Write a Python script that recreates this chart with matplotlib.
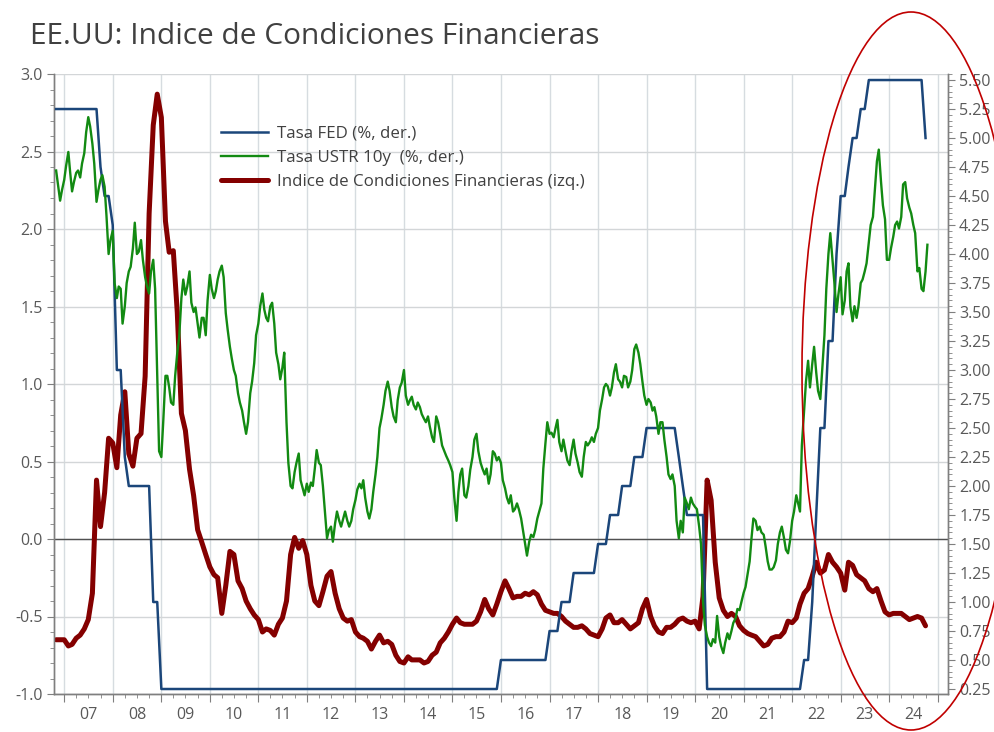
import numpy as np
import pandas as pd
import matplotlib
matplotlib.use("Agg")
import matplotlib.pyplot as plt
import matplotlib.dates as mdates
from matplotlib.patches import Ellipse
from matplotlib.ticker import MultipleLocator, FormatStrFormatter, NullFormatter

plt.rcParams['font.family'] = ['Open Sans', 'DejaVu Sans']
plt.rcParams['axes.unicode_minus'] = False

# monthly series, Nov-2006 .. Oct-2024
month_start = "2006-11-01"
month_end = "2024-10-01"

# Tasa FED (%), right axis
fed = [5.25, 5.25,
       5.25, 5.25, 5.25, 5.25, 5.25, 5.25, 5.25, 5.25, 5.25, 4.75, 4.50, 4.50,
       4.25, 3.00, 3.00, 2.25, 2.00, 2.00, 2.00, 2.00, 2.00, 2.00, 1.00, 1.00,
       0.25, 0.25, 0.25, 0.25, 0.25, 0.25, 0.25, 0.25, 0.25, 0.25, 0.25, 0.25,
       0.25, 0.25, 0.25, 0.25, 0.25, 0.25, 0.25, 0.25, 0.25, 0.25, 0.25, 0.25,
       0.25, 0.25, 0.25, 0.25, 0.25, 0.25, 0.25, 0.25, 0.25, 0.25, 0.25, 0.25,
       0.25, 0.25, 0.25, 0.25, 0.25, 0.25, 0.25, 0.25, 0.25, 0.25, 0.25, 0.25,
       0.25, 0.25, 0.25, 0.25, 0.25, 0.25, 0.25, 0.25, 0.25, 0.25, 0.25, 0.25,
       0.25, 0.25, 0.25, 0.25, 0.25, 0.25, 0.25, 0.25, 0.25, 0.25, 0.25, 0.25,
       0.25, 0.25, 0.25, 0.25, 0.25, 0.25, 0.25, 0.25, 0.25, 0.25, 0.25, 0.25,
       0.50, 0.50, 0.50, 0.50, 0.50, 0.50, 0.50, 0.50, 0.50, 0.50, 0.50, 0.50,
       0.75, 0.75, 0.75, 1.00, 1.00, 1.00, 1.25, 1.25, 1.25, 1.25, 1.25, 1.25,
       1.50, 1.50, 1.50, 1.75, 1.75, 1.75, 2.00, 2.00, 2.00, 2.25, 2.25, 2.25,
       2.50, 2.50, 2.50, 2.50, 2.50, 2.50, 2.50, 2.50, 2.25, 2.00, 1.75, 1.75,
       1.75, 1.75, 1.75, 0.25, 0.25, 0.25, 0.25, 0.25, 0.25, 0.25, 0.25, 0.25,
       0.25, 0.25, 0.25, 0.25, 0.25, 0.25, 0.25, 0.25, 0.25, 0.25, 0.25, 0.25,
       0.25, 0.25, 0.25, 0.50, 0.50, 1.00, 1.75, 2.50, 2.50, 3.25, 3.25, 4.00,
       4.50, 4.50, 4.75, 5.00, 5.00, 5.25, 5.25, 5.50, 5.50, 5.50, 5.50, 5.50,
       5.50, 5.50, 5.50, 5.50, 5.50, 5.50, 5.50, 5.50, 5.50, 5.00]

# Indice de Condiciones Financieras, left axis
icf = [-0.65, -0.65,
       -0.65, -0.69, -0.68, -0.64, -0.62, -0.58, -0.52, -0.35, 0.38, 0.08, 0.30, 0.65,
       0.62, 0.46, 0.80, 0.95, 0.55, 0.47, 0.65, 0.68, 1.05, 2.10, 2.67, 2.87,
       2.72, 2.05, 1.85, 1.86, 1.46, 0.81, 0.70, 0.45, 0.28, 0.06, -0.02, -0.10,
       -0.18, -0.23, -0.25, -0.48, -0.30, -0.08, -0.10, -0.27, -0.32, -0.40, -0.45, -0.49,
       -0.52, -0.60, -0.58, -0.59, -0.62, -0.55, -0.51, -0.40, -0.10, 0.01, -0.06, -0.01,
       -0.10, -0.30, -0.40, -0.43, -0.34, -0.24, -0.21, -0.35, -0.45, -0.51, -0.53, -0.52,
       -0.60, -0.63, -0.64, -0.66, -0.71, -0.66, -0.62, -0.67, -0.66, -0.68, -0.75, -0.79,
       -0.80, -0.76, -0.78, -0.78, -0.78, -0.80, -0.79, -0.75, -0.73, -0.67, -0.64, -0.60,
       -0.55, -0.51, -0.54, -0.55, -0.55, -0.55, -0.53, -0.47, -0.39, -0.45, -0.49, -0.42,
       -0.34, -0.27, -0.32, -0.38, -0.37, -0.37, -0.35, -0.36, -0.34, -0.36, -0.42, -0.46,
       -0.47, -0.48, -0.48, -0.50, -0.53, -0.55, -0.57, -0.57, -0.56, -0.58, -0.61, -0.62,
       -0.63, -0.58, -0.51, -0.49, -0.54, -0.54, -0.52, -0.55, -0.58, -0.56, -0.54, -0.45,
       -0.39, -0.50, -0.56, -0.60, -0.61, -0.57, -0.57, -0.55, -0.52, -0.51, -0.53, -0.54,
       -0.53, -0.58, -0.37, 0.38, 0.25, -0.15, -0.38, -0.46, -0.50, -0.48, -0.50, -0.56,
       -0.59, -0.61, -0.62, -0.63, -0.66, -0.69, -0.68, -0.64, -0.63, -0.63, -0.60, -0.53,
       -0.54, -0.51, -0.42, -0.35, -0.32, -0.24, -0.15, -0.22, -0.20, -0.10, -0.15, -0.18,
       -0.22, -0.33, -0.15, -0.17, -0.23, -0.25, -0.27, -0.32, -0.34, -0.32, -0.40, -0.47,
       -0.49, -0.48, -0.48, -0.48, -0.50, -0.52, -0.51, -0.50, -0.51, -0.56]

# Tasa USTR 10y (%), right axis, semi-monthly (1st and 15th)
semi_start = "2006-11-01"
semi_end = "2024-10-15"
ust10 = [4.72, 4.60, 4.46, 4.55,
         4.64, 4.76, 4.88, 4.70, 4.54, 4.62, 4.70, 4.72, 4.66, 4.78, 4.87, 5.05,
         5.18, 5.10, 4.95, 4.78, 4.45, 4.55, 4.64, 4.68, 4.58, 4.33, 4.00, 4.12,
         4.20, 3.75, 3.62, 3.72, 3.70, 3.40, 3.55, 3.75, 3.85, 3.89, 4.05, 4.27,
         4.00, 4.02, 4.12, 3.95, 3.80, 3.72, 3.66, 3.85, 3.95, 3.70, 2.95, 2.30,
         2.25, 2.55, 2.95, 2.95, 2.85, 2.72, 2.70, 2.95, 3.15, 3.28, 3.62, 3.78,
         3.65, 3.72, 3.85, 3.58, 3.50, 3.54, 3.40, 3.28, 3.45, 3.45, 3.30, 3.60,
         3.82, 3.70, 3.62, 3.68, 3.78, 3.85, 3.90, 3.80, 3.49, 3.35, 3.20, 3.10,
         3.00, 2.95, 2.80, 2.72, 2.65, 2.55, 2.45, 2.55, 2.80, 2.90, 3.06, 3.30,
         3.40, 3.55, 3.66, 3.52, 3.45, 3.42, 3.55, 3.58, 3.40, 3.15, 3.05, 2.92,
         3.02, 3.15, 2.55, 2.20, 2.00, 1.98, 2.12, 2.20, 2.28, 2.05, 1.98, 1.92,
         2.02, 1.95, 2.03, 2.00, 2.15, 2.31, 2.20, 2.18, 2.00, 1.80, 1.55, 1.62,
         1.65, 1.52, 1.68, 1.78, 1.70, 1.65, 1.72, 1.78, 1.70, 1.65, 1.70, 1.80,
         1.88, 1.97, 2.02, 1.98, 2.05, 1.90, 1.78, 1.72, 1.80, 1.95, 2.10, 2.25,
         2.50, 2.58, 2.70, 2.82, 2.90, 2.82, 2.68, 2.60, 2.55, 2.74, 2.85, 2.89,
         3.00, 2.78, 2.70, 2.74, 2.77, 2.70, 2.66, 2.72, 2.68, 2.62, 2.58, 2.55,
         2.60, 2.51, 2.42, 2.38, 2.60, 2.55, 2.45, 2.35, 2.30, 2.26, 2.22, 2.18,
         2.12, 1.90, 1.70, 1.95, 2.10, 2.15, 1.92, 1.90, 2.00, 2.14, 2.25, 2.40,
         2.45, 2.30, 2.20, 2.15, 2.10, 2.15, 2.02, 2.10, 2.30, 2.28, 2.22, 2.25,
         2.20, 2.05, 1.98, 1.90, 1.85, 1.92, 1.78, 1.80, 1.85, 1.80, 1.72, 1.62,
         1.50, 1.40, 1.52, 1.58, 1.56, 1.62, 1.72, 1.78, 1.85, 2.15, 2.37, 2.55,
         2.45, 2.46, 2.42, 2.50, 2.57, 2.38, 2.30, 2.40, 2.30, 2.22, 2.18, 2.30,
         2.40, 2.28, 2.20, 2.12, 2.08, 2.25, 2.38, 2.35, 2.38, 2.42, 2.38, 2.45,
         2.50, 2.65, 2.75, 2.85, 2.88, 2.86, 2.78, 2.85, 2.98, 3.05, 2.92, 2.90,
         2.85, 2.95, 2.94, 2.85, 2.90, 3.00, 3.18, 3.22, 3.15, 3.05, 2.90, 2.78,
         2.70, 2.75, 2.72, 2.65, 2.68, 2.60, 2.45, 2.55, 2.55, 2.40, 2.25, 2.10,
         2.06, 2.10, 2.00, 1.70, 1.55, 1.70, 1.60, 1.90, 1.85, 1.80, 1.90, 1.85,
         1.82, 1.80, 1.65, 1.50, 1.00, 0.80, 0.70, 0.65, 0.62, 0.68, 0.65, 0.88,
         0.70, 0.62, 0.56, 0.65, 0.73, 0.68, 0.75, 0.82, 0.86, 0.94, 0.93, 1.00,
         1.08, 1.13, 1.25, 1.35, 1.55, 1.72, 1.70, 1.62, 1.65, 1.60, 1.58, 1.48,
         1.35, 1.28, 1.28, 1.30, 1.36, 1.50, 1.60, 1.65, 1.55, 1.45, 1.42, 1.52,
         1.70, 1.78, 1.92, 1.85, 1.78, 2.35, 2.65, 2.90, 3.08, 2.85, 3.05, 3.20,
         2.98, 2.82, 2.75, 3.00, 3.30, 3.70, 4.00, 4.18, 3.95, 3.75, 3.50, 3.65,
         3.80, 3.48, 3.60, 3.85, 3.92, 3.55, 3.42, 3.55, 3.45, 3.55, 3.75, 3.78,
         3.85, 3.92, 4.10, 4.25, 4.32, 4.55, 4.80, 4.90, 4.62, 4.42, 4.30, 3.95,
         3.95, 4.05, 4.15, 4.25, 4.28, 4.22, 4.32, 4.60, 4.62, 4.48, 4.40, 4.35,
         4.25, 4.18, 3.85, 3.88, 3.70, 3.68, 3.85, 4.08]

years = list(range(2007, 2025))
year_labels = ["%02d" % (y % 100) for y in years]

title = "EE.UU: Indice de Condiciones Financieras"
labels = ["Tasa FED (%, der.)", "Tasa USTR 10y  (%, der.)",
          "Indice de Condiciones Financieras (izq.)"]

c_fed = "#1B467A"
c_ust = "#128A12"
c_icf = "#840000"
c_txt = "#595959"
c_axis = "#7F7F7F"

months = pd.date_range(month_start, month_end, freq="MS")
semis = pd.date_range(semi_start, semi_end, freq="SMS")

fig = plt.figure(figsize=(9.95, 7.32), dpi=100)
ax = fig.add_axes([54 / 995, 1 - 694 / 732, (948 - 54) / 995, (694 - 74) / 732])
ax2 = ax.twinx()

l_icf, = ax.plot(months, icf, color=c_icf, lw=3.6, solid_capstyle="round",
                 solid_joinstyle="round", zorder=3)
l_fed, = ax2.plot(months, fed, color=c_fed, lw=1.8, zorder=3)
l_ust, = ax2.plot(semis, ust10, color=c_ust, lw=1.7, zorder=4)

ax.set_xlim(pd.Timestamp("2006-10-16"), pd.Timestamp("2025-03-19"))
ax.set_ylim(-1.0, 3.0)
ax2.set_ylim(0.207, 5.552)

ax.yaxis.set_major_locator(MultipleLocator(0.5))
ax.yaxis.set_minor_locator(MultipleLocator(0.1))
ax.yaxis.set_major_formatter(FormatStrFormatter("%.1f"))
ax2.yaxis.set_major_locator(MultipleLocator(0.25))
ax2.yaxis.set_minor_locator(MultipleLocator(0.05))
ax2.yaxis.set_major_formatter(FormatStrFormatter("%.2f"))

ax.xaxis.set_major_locator(mdates.YearLocator())
ax.xaxis.set_minor_locator(mdates.MonthLocator(bymonth=[1, 4, 7, 10]))
ax.xaxis.set_major_formatter(NullFormatter())

ax.grid(axis="x", which="major", color="#D6DCE0", lw=1.0)
ax.grid(axis="y", which="major", color="#D3D6D8", lw=1.0)
ax.set_axisbelow(True)
ax.axhline(0, color="#505050", lw=1.0, zorder=2)

for a in (ax, ax2):
    a.spines["top"].set_visible(False)
    for s in ("left", "right", "bottom"):
        a.spines[s].set_color(c_axis)
        a.spines[s].set_linewidth(1.0)

ax.tick_params(axis="y", which="major", length=5, color=c_axis,
               labelsize=11.5, labelcolor=c_txt, pad=3)
ax.tick_params(axis="y", which="minor", length=3, color=c_axis)
ax2.tick_params(axis="y", which="major", length=5, color=c_axis,
                labelsize=11.5, labelcolor=c_txt, pad=3)
ax2.tick_params(axis="y", which="minor", length=3, color=c_axis)
ax.tick_params(axis="x", which="major", length=6, color=c_axis)
ax.tick_params(axis="x", which="minor", length=3, color=c_axis)

trans = ax.get_xaxis_transform()
for y, lab in zip(years, year_labels):
    ax.text(pd.Timestamp(y, 7, 2), -0.034, lab, transform=trans, ha="center",
            va="center", fontsize=11.5, color=c_txt)

fig.text(30 / 995, 1 - 37 / 732, title, ha="left", va="center",
         fontsize=21.5, color="#404040")

leg = ax2.legend([l_fed, l_ust, l_icf], labels, loc="upper left",
                 bbox_to_anchor=(221 / 995, 1 - 126 / 732),
                 bbox_transform=fig.transFigure, frameon=False, fontsize=12.2,
                 handlelength=2.8, handletextpad=0.5, labelspacing=0.48,
                 borderpad=0, borderaxespad=0)
for t in leg.get_texts():
    t.set_color("#404040")

ell = Ellipse((911 / 995, 1 - 371 / 732), 218 / 995, 718 / 732,
              transform=fig.transFigure, fill=False, edgecolor="#C00000",
              lw=1.2, zorder=10)
fig.add_artist(ell)

fig.savefig("out.png", dpi=100)
